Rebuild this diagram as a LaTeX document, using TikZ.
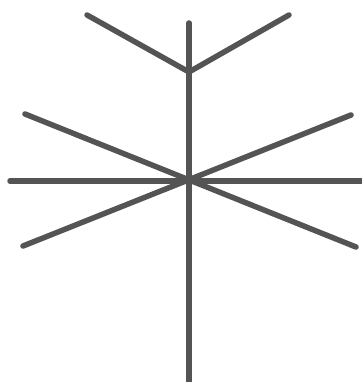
\documentclass[tikz,border=0pt]{standalone}
\begin{document}
\begin{tikzpicture}[x=1pt, y=-1pt, stroke/.style={draw=black!67, line width=5.5pt, line cap=round}]
\useasboundingbox (0,0) rectangle (361,382);
\coordinate (centre) at (189,181);
\coordinate (top) at (189,23);
\coordinate (bottom) at (189,384);
\coordinate (fork) at (189,72);
\coordinate (forkleft) at (87,15);
\coordinate (forkright) at (289,15);
\coordinate (west) at (10,181);
\coordinate (east) at (363,181);
\coordinate (upleft) at (25,114);
\coordinate (downright) at (356,247);
\coordinate (downleft) at (23,246);
\coordinate (upright) at (351,115);
\draw[stroke] (top) -- (bottom);
\draw[stroke] (forkleft) -- (fork) -- (forkright);
\draw[stroke] (west) -- (east);
\draw[stroke] (upleft) -- (downright);
\draw[stroke] (downleft) -- (upright);
\end{tikzpicture}
\end{document}
